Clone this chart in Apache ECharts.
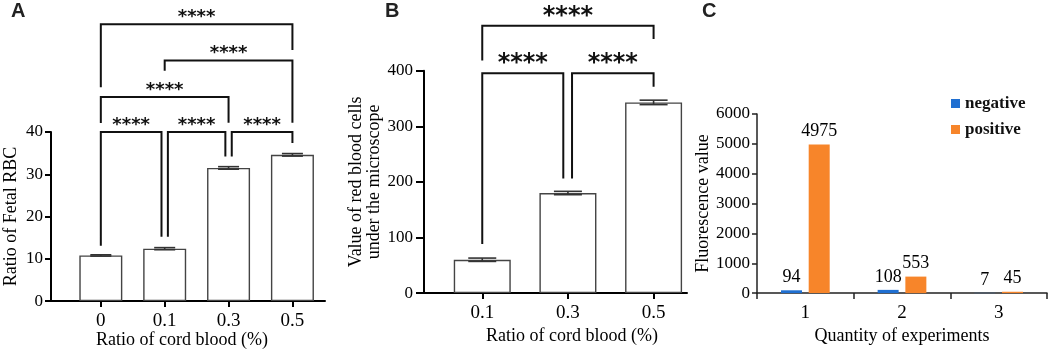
<!DOCTYPE html>
<html>
<head>
<meta charset="utf-8">
<script src="https://cdn.jsdelivr.net/npm/echarts@6/dist/echarts.min.js"></script>
<style>
  html, body { margin: 0; padding: 0; background: #fff; }
  #chart { width: 1052px; height: 350px; }
</style>
</head>
<body>
<div id="chart"></div>
<script>
// panel A
const catsA = ['0', '0.1', '0.3', '0.5'];
const meanA = [10.8, 12.4, 31.5, 34.6];
const errA = [0.15, 0.25, 0.3, 0.3];
// [xStart, xEnd, yTop, yLeftEnd, yRightEnd]
const bracketsA = [
  [0, 3, 65.5, 50.6, 59.4],
  [1, 3, 56.9, 54.5, 42.2],
  [0, 2, 48.3, 42.1, 42.2],
  [0, 0.95, 40, 13.1, 15.2],
  [1.05, 1.95, 40, 15.2, 34.2],
  [2.05, 3, 40, 34.2, 37.4]
];

// panel B
const catsB = ['0.1', '0.3', '0.5'];
const meanB = [60, 180, 343];
const errB = [3, 3, 4];
const bracketsB = [
  [0, 2, 481, 418.5, 457],
  [0, 0.946, 395.5, 88.3, 206],
  [1.048, 2, 395.5, 206, 371]
];

// panel C
const catsC = ['1', '2', '3'];
const negativeC = [94, 108, 7];
const positiveC = [4975, 553, 45];

const serif = '"Liberation Serif", "Times New Roman", serif';

let chart = echarts.init(document.getElementById('chart'));

function bracketRender(size, lift) {
  return function (params, api) {
    let a = api.coord([api.value(0), api.value(3)]);
    let b = api.coord([api.value(0), api.value(2)]);
    let c = api.coord([api.value(1), api.value(2)]);
    let d = api.coord([api.value(1), api.value(4)]);
    return {
      type: 'group',
      children: [
        {
          type: 'polyline',
          shape: { points: [a, b, c, d] },
          style: { stroke: '#111', lineWidth: 2, fill: null, lineJoin: 'miter' }
        },
        {
          type: 'text',
          x: (b[0] + c[0]) / 2,
          y: b[1] - lift,
          style: {
            text: '****',
            font: 'bold ' + size + 'px "DejaVu Sans"',
            align: 'center',
            verticalAlign: 'middle',
            fill: '#111'
          }
        }
      ]
    };
  };
}

function errorRender(capW) {
  return function (params, api) {
    let x = api.value(0), m = api.value(1), e = api.value(2);
    let hi = api.coord([x, m + e]);
    let lo = api.coord([x, m - e]);
    let st = { stroke: '#333', lineWidth: 1.6 };
    return {
      type: 'group',
      children: [
        { type: 'line', shape: { x1: hi[0], y1: hi[1], x2: lo[0], y2: lo[1] }, style: st },
        { type: 'line', shape: { x1: hi[0] - capW / 2, y1: hi[1], x2: hi[0] + capW / 2, y2: hi[1] }, style: st },
        { type: 'line', shape: { x1: lo[0] - capW / 2, y1: lo[1], x2: lo[0] + capW / 2, y2: lo[1] }, style: st }
      ]
    };
  };
}

const axisLine = { show: true, onZero: false, lineStyle: { color: '#000', width: 2 } };
const axisTick = { show: true, length: 6, lineStyle: { color: '#000', width: 2 } };
const letterStyle = { fontFamily: '"Liberation Sans", Arial', fontWeight: 'bold', fontSize: 20, color: '#222' };

let option = {
  animation: false,
  backgroundColor: '#fff',
  title: [
    { text: 'A', left: 11, top: 1, padding: 0, textStyle: letterStyle },
    { text: 'B', left: 385, top: 1, padding: 0, textStyle: letterStyle },
    { text: 'C', left: 702, top: 1, padding: 0, textStyle: letterStyle }
  ],
  legend: {
    data: ['negative', 'positive'],
    orient: 'vertical',
    left: 946,
    top: 90,
    itemWidth: 9,
    itemHeight: 9,
    itemGap: 9,
    icon: 'rect',
    textStyle: { fontFamily: serif, fontWeight: 'bold', fontSize: 17, color: '#111' }
  },
  grid: [
    { left: 51, right: 727, top: 132, bottom: 48.3 },
    { left: 424, right: 365, top: 70.7, bottom: 48.3 },
    { left: 757, right: 5, top: 114, bottom: 47.7 }
  ],
  xAxis: [
    {
      gridIndex: 0, type: 'value', min: -0.78, max: 3.51,
      axisLine: axisLine, axisTick: Object.assign({ customValues: [0, 1, 2, 3] }, axisTick),
      splitLine: { show: false },
      axisLabel: {
        customValues: [0, 1, 2, 3], formatter: v => catsA[Math.round(v)],
        fontFamily: serif, fontSize: 19, color: '#000', margin: 10
      },
      name: 'Ratio of cord blood (%)', nameLocation: 'middle', nameGap: 26,
      nameTextStyle: { fontFamily: serif, fontSize: 18, color: '#000', padding: [0, 12, 0, 0] }
    },
    {
      gridIndex: 1, type: 'value', min: -0.68, max: 2.39,
      axisLine: axisLine, axisTick: Object.assign({ customValues: [0, 1, 2] }, axisTick),
      splitLine: { show: false },
      axisLabel: {
        customValues: [0, 1, 2], formatter: v => catsB[Math.round(v)],
        fontFamily: serif, fontSize: 19, color: '#000', margin: 10
      },
      name: 'Ratio of cord blood (%)', nameLocation: 'middle', nameGap: 26,
      nameTextStyle: { fontFamily: serif, fontSize: 18, color: '#000', padding: [0, 0, 0, 33] }
    },
    {
      gridIndex: 2, type: 'category', data: catsC,
      axisLine: { show: true, lineStyle: { color: '#222', width: 1.5 } },
      axisTick: { show: true, length: 6, lineStyle: { color: '#222', width: 1.5 } },
      axisLabel: { fontFamily: serif, fontSize: 19, color: '#000', margin: 10 },
      name: 'Quantity of experiments', nameLocation: 'middle', nameGap: 26,
      nameTextStyle: { fontFamily: serif, fontSize: 18, color: '#000' }
    }
  ],
  yAxis: [
    {
      gridIndex: 0, type: 'value', min: 0, max: 40, interval: 10,
      axisLine: axisLine, axisTick: axisTick, splitLine: { show: false },
      axisLabel: { fontFamily: serif, fontSize: 17, color: '#000', margin: 8 },
      name: 'Ratio of Fetal RBC', nameLocation: 'middle', nameGap: 31,
      nameTextStyle: { fontFamily: serif, fontSize: 18, color: '#000' }
    },
    {
      gridIndex: 1, type: 'value', min: 0, max: 400, interval: 100,
      axisLine: axisLine, axisTick: Object.assign({}, axisTick, { length: 8 }), splitLine: { show: false },
      axisLabel: { fontFamily: serif, fontSize: 17, color: '#000', margin: 11 },
      name: 'Value of red blood cells\nunder the microscope', nameLocation: 'middle', nameGap: 38,
      nameTextStyle: { fontFamily: serif, fontSize: 18, lineHeight: 18, color: '#000' }
    },
    {
      gridIndex: 2, type: 'value', min: 0, max: 6000, interval: 1000,
      axisLine: { show: true, lineStyle: { color: '#222', width: 1.5 } },
      axisTick: { show: true, length: 5, lineStyle: { color: '#222', width: 1.5 } },
      splitLine: { show: false },
      axisLabel: { formatter: v => String(v), fontFamily: serif, fontSize: 17, color: '#000', margin: 7 },
      name: 'Fluorescence value', nameLocation: 'middle', nameGap: 38,
      nameTextStyle: { fontFamily: serif, fontSize: 18, color: '#000' }
    }
  ],
  series: [
    {
      type: 'bar', xAxisIndex: 0, yAxisIndex: 0, barWidth: 43,
      itemStyle: { color: '#fff', borderColor: '#444', borderWidth: 1.4 },
      data: meanA.map((v, i) => [i, v])
    },
    {
      type: 'custom', xAxisIndex: 0, yAxisIndex: 0, clip: false, z: 5,
      renderItem: errorRender(21),
      encode: { x: 0, y: 1 },
      data: meanA.map((v, i) => [i, v, errA[i]])
    },
    {
      type: 'custom', xAxisIndex: 0, yAxisIndex: 0, clip: false, z: 5,
      renderItem: bracketRender(18, 7),
      encode: { x: [0, 1], y: [2, 3, 4] },
      data: bracketsA
    },
    {
      type: 'bar', xAxisIndex: 1, yAxisIndex: 1, barWidth: 57,
      itemStyle: { color: '#fff', borderColor: '#444', borderWidth: 1.4 },
      data: meanB.map((v, i) => [i, v])
    },
    {
      type: 'custom', xAxisIndex: 1, yAxisIndex: 1, clip: false, z: 5,
      renderItem: errorRender(28),
      encode: { x: 0, y: 1 },
      data: meanB.map((v, i) => [i, v, errB[i]])
    },
    {
      type: 'custom', xAxisIndex: 1, yAxisIndex: 1, clip: false, z: 5,
      renderItem: bracketRender(24, 9),
      encode: { x: [0, 1], y: [2, 3, 4] },
      data: bracketsB
    },
    {
      name: 'negative', type: 'bar', xAxisIndex: 2, yAxisIndex: 2,
      barWidth: 21, barGap: '32%',
      itemStyle: { color: '#1f6fd1' },
      label: { show: true, position: 'top', distance: 4, fontFamily: serif, fontSize: 18, color: '#000' },
      data: negativeC
    },
    {
      name: 'positive', type: 'bar', xAxisIndex: 2, yAxisIndex: 2,
      barWidth: 21, barGap: '32%',
      itemStyle: { color: '#f7852a' },
      label: { show: true, position: 'top', distance: 4, fontFamily: serif, fontSize: 18, color: '#000' },
      data: positiveC
    }
  ]
};

chart.setOption(option);
</script>
</body>
</html>
